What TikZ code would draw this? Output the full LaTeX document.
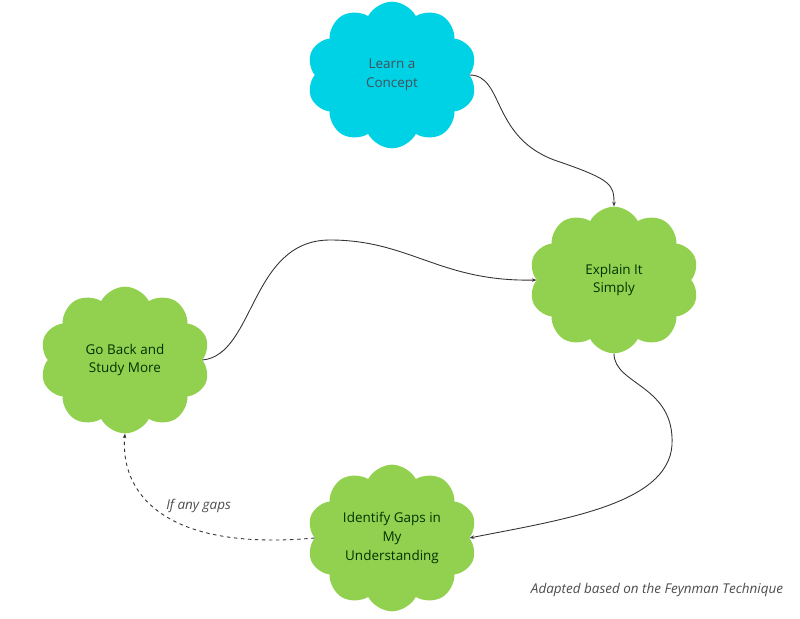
\documentclass[tikz,border=0pt]{standalone}
\usepackage{fontspec}
\setmainfont{Open Sans}
\usepackage{xcolor}
\usetikzlibrary{shapes.symbols, arrows.meta}

\definecolor{conceptcyan}{HTML}{00D2E6}
\definecolor{stepgreen}{HTML}{92D050}
\definecolor{inkgray}{HTML}{333333}

\begin{document}
\begin{tikzpicture}[x = 0.03cm, y = -0.03cm,
	idea/.style = {cloud, cloud puffs = 10, cloud puff arc = 125, cloud ignores aspect,
		minimum width = 5.1cm, minimum height = 4.4cm, inner sep = 0pt,
		align = center, font = \fontsize{11.5}{16}\selectfont},
	flow/.style = {-{Stealth[length = 4pt, width = 3pt]}, inkgray, line width = 0.75pt},
	note/.style = {font = \fontsize{11.5}{13}\selectfont\itshape, text = black!70}]
	\useasboundingbox (0,0) rectangle (800,619);

	\node [idea, fill = conceptcyan, text = cyan!25!black] (learn) at (392,75) {Learn a\\Concept};
	\node [idea, fill = stepgreen, text = green!20!black] (explain) at (614,280) {Explain It\\Simply};
	\node [idea, fill = stepgreen, text = green!20!black] (goback) at (125,360) {Go Back and\\Study More};
	\node [idea, fill = stepgreen, text = green!20!black] (gaps) at (392,538) {Identify Gaps in\\My\\Understanding};

	\draw [flow] (learn.east) .. controls (505,75) and (490,140) .. (560,162)
		.. controls (612,180) and (614,185) .. (explain.north);
	\draw [flow] (goback.east) .. controls (255,355) and (250,240) .. (330,240)
		.. controls (410,240) and (440,282) .. (explain.west);
	\draw [flow] (explain.south) .. controls (614,385) and (675,385) .. (672,445)
		.. controls (668,505) and (560,520) .. (gaps.east);
	\draw [flow, dashed] (gaps.west) .. controls (160,552) and (120,490) .. (goback.south)
		node [pos = 0.55, note, right, xshift = 0.3cm] (gapslabel) {If any gaps};

	\node [note] (source) at (657,590) {Adapted based on the Feynman Technique};
\end{tikzpicture}
\end{document}
